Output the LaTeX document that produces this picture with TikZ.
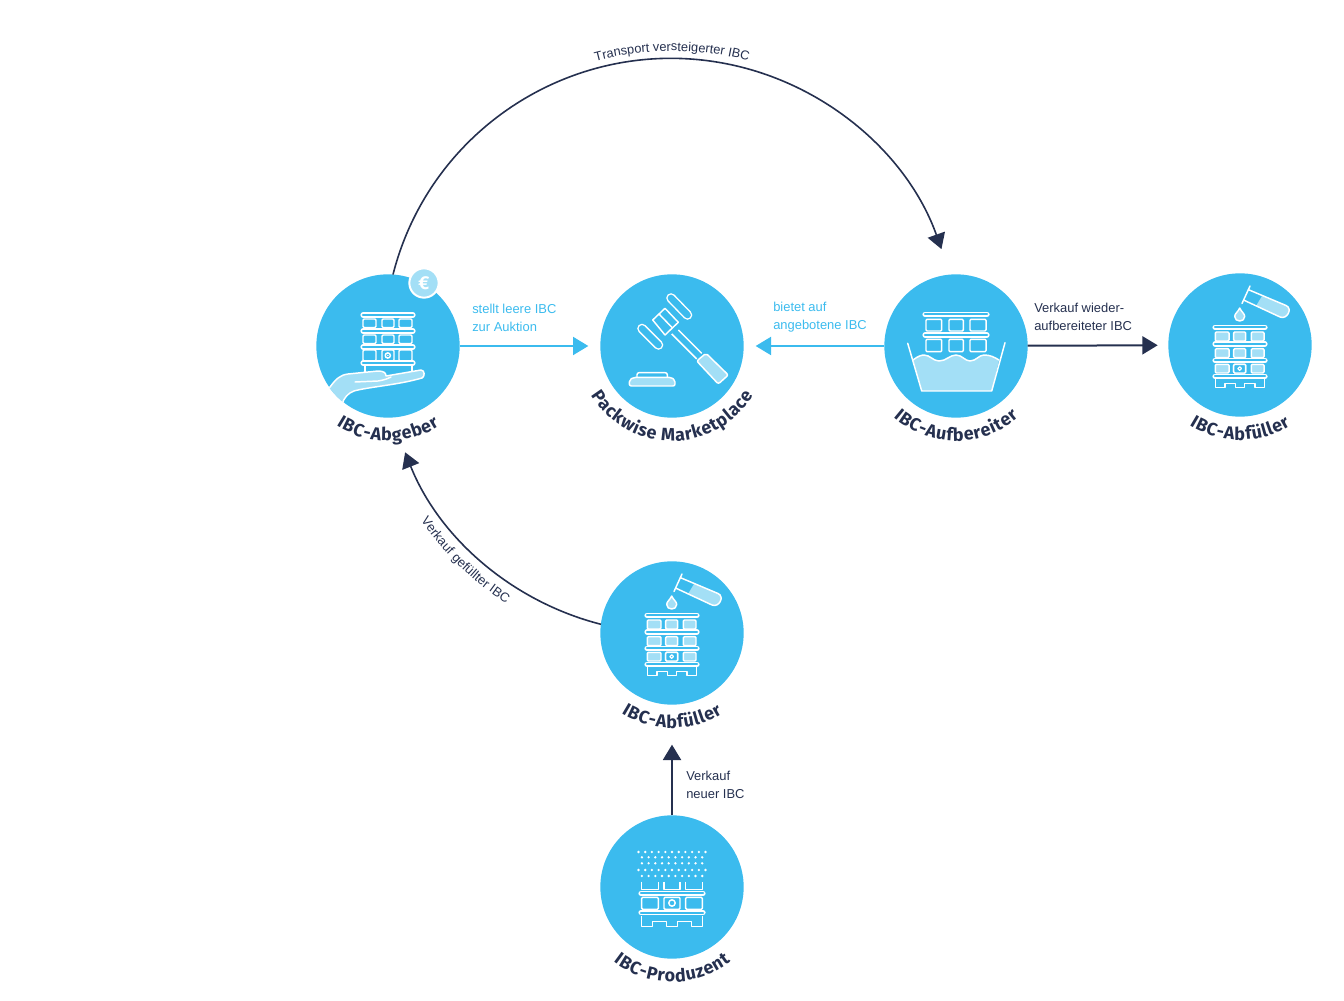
\documentclass[tikz,border=0pt]{standalone}
\usepackage{fontspec}
\setmainfont{Liberation Sans}
\newfontfamily\firaf{Fira Sans}
\usetikzlibrary{arrows.meta,calc,decorations.text}
\definecolor{cblue}{HTML}{3BBBEE}
\definecolor{clight}{HTML}{A3DFF6}
\definecolor{navy}{HTML}{25304F}
\newcommand{\lblfont}{\firaf\bfseries\fontsize{13.4}{16}\selectfont}
\tikzset{
  hub/.style={circle,fill=cblue,minimum size=107.5pt,inner sep=0pt,outer sep=0pt},
  ico/.style={draw=white,line width=1.1pt,line join=round},
  win/.style={ico,rounded corners=0.8pt},
  rail/.style={draw=white,line width=1.1pt,double=cblue,double distance=1.7pt,line cap=round},
  bar/.style={draw=white,line width=1.1pt,double=cblue,double distance=5pt,line cap=round},
  arrowblue/.style={draw=cblue,line width=1.5pt,-{Triangle[length=11.5pt,width=13.5pt]}},
  arrownavy/.style={draw=navy,line width=1.5pt,-{Triangle[length=11.5pt,width=13.5pt]}},
  arcnavy/.style={draw=navy,line width=1.2pt,-{Triangle[length=11.5pt,width=13.5pt]}},
  sidetext/.style={align=left,anchor=west,font=\fontsize{9.7}{13.5}\selectfont,inner sep=0pt},
  curvedtext/.style={decorate,decoration={text along path,text align=center,text={#1}}},
  hubtext/.style={decorate,decoration={text effects along path,text={#1},text align=center,
    text effects/.cd,text along path,
    characters={font=\lblfont,text=navy,inner xsep=0.25pt,inner ysep=0pt},
    character widths={font=\lblfont,inner xsep=0.25pt}}},
}
% label around a hub
\newcommand{\hublabel}[2]{\path[hubtext={#2}] ($(#1)+(190:95)$) arc[start angle=190,end angle=350,radius=95];}
\newcommand{\iconfiller}[1]{%
\begin{scope}[shift={(#1)},y=-0.75pt]
  \foreach \xa/\xb in {-24.7/-11,-6.3/5.7,11.3/24}
    \foreach \ya/\yb in {-13/-4,3.7/12.7,19.3/28}
      \draw[win,fill=clight] (\xa,\ya) rectangle (\xb,\yb);
  \draw[win,fill=cblue] (-6.3,19.3) rectangle (5.7,28);
  \draw[ico,line width=0.9pt] (-0.3,23.6) circle[radius=1.8];
  \foreach \y in {-17.7,-1,15.3,31.3} \draw[rail] (-25,\y) -- (25,\y);
  \draw[ico] (-24.7,34) -- (-24.7,42.7) -- (-15,42.7) -- (-15,38.5) -- (-4.5,38.5) -- (-4.5,42.7) -- (4.5,42.7) -- (4.5,38.5) -- (15,38.5) -- (15,42.7) -- (24.7,42.7) -- (24.7,34);
  % drop
  \draw[ico,fill=clight] (-0.3,-37) .. controls (-2,-33) and (-5.3,-31.5) .. (-5.3,-28.5) .. controls (-5.3,-22.5) and (4.7,-22.5) .. (4.7,-28.5) .. controls (4.7,-31.5) and (1.4,-33) .. (-0.3,-37) -- cycle;
  % test tube
  \fill[clight] (22,-49) -- (46,-39.5) .. controls (53,-36.5) and (47,-25) .. (40,-28) -- (16,-39) -- cycle;
  \draw[ico] (8,-55.5) -- (46,-39.5) .. controls (53,-36.5) and (47,-25) .. (40,-28) -- (3.5,-45);
  \draw[ico,line cap=round] (10,-59) -- (2,-41.5);
\end{scope}}
\begin{document}
\begin{tikzpicture}[x=0.75pt,y=0.75pt]
\useasboundingbox (0,0) rectangle (1344,1000);
\node[hub] (market) at (672,654) {};
\node[hub] (abgeber) at (388,654) {};
\node[hub] (aufbereiter) at (956,654) {};
\node[hub] (fillerright) at (1240,655) {};
\node[hub] (fillerlow) at (672,367) {};
\node[hub] (produzent) at (672,113) {};
% connectors
\draw[arcnavy] (abgeber.86) arc[start angle=165.7,end angle=19.6,radius=287];
\draw[arcnavy] (fillerlow.173) arc[start angle=255.7,end angle=201.7,radius=287];
\draw[arrowblue,shorten >=9pt] (abgeber) -- (market);
\draw[arrowblue,shorten >=9pt] (aufbereiter) -- (market);
\draw[arrownavy,shorten >=8pt] (aufbereiter) -- (fillerright);
\draw[arrownavy,shorten >=30pt] (produzent) -- (fillerlow);
% badge
\node[circle,fill=clight,draw=white,line width=1.5pt,minimum size=22pt,inner sep=0pt,text=white,font=\firaf\bfseries\fontsize{14}{14}\selectfont] (euro) at (424,717) {€};
% side texts
\node[sidetext,text=cblue] (t1) at (472,682.5) {stellt leere IBC\\zur Auktion};
\node[sidetext,text=cblue] (t2) at (773,682.5) {bietet auf\\angebotene IBC};
\node[sidetext,text=navy] (t3) at (1034,683) {Verkauf wieder-\\aufbereiteter IBC};
\node[sidetext,text=navy] (t4) at (686,215) {Verkauf\\neuer IBC};
% arc texts
\path[curvedtext={|\fontsize{9.6}{12}\selectfont\color{navy}|Transport versteigerter IBC}] ($(market)+(115:295)$) arc[start angle=115,end angle=65,radius=295];
\path[curvedtext={|\fontsize{9.7}{12}\selectfont\color{navy}|Verkauf gefüllter IBC}] ($(market)+(201:306)$) arc[start angle=201,end angle=251,radius=306];
% hub labels
\hublabel{abgeber}{IBC-Abgeber}
\hublabel{market}{Packwise Marketplace}
\hublabel{aufbereiter}{IBC-Aufbereiter}
\hublabel{fillerright}{IBC-Abfüller}
\hublabel{fillerlow}{IBC-Abfüller}
\hublabel{produzent}{IBC-Produzent}
% icon: Abgeber
\begin{scope}[shift={(abgeber)},y=-0.75pt]
  \foreach \xa/\xb in {-25/-12,-6/6,11/24}
    \foreach \ya/\yb in {-27/-18.5,-11/-2.5,4/15}
      \draw[win] (\xa,\ya) rectangle (\xb,\yb);
  \draw[ico] (-0.2,9.5) circle[radius=2.6];
  \fill[white] (-0.2,9.5) circle[radius=0.8];
  \foreach \y in {-31,-15,1,17} \draw[rail] (-25,\y) -- (25,\y);
  \draw[ico] (-23,20) -- (-23,26) (24,20) -- (24,26);
  \clip (0,0) circle[radius=72];
  \draw[ico,fill=clight] (-62,46) -- (-58,41) .. controls (-52,33) and (-48,29) .. (-40,28) -- (-10,25) .. controls (-4,25) and (-2,27) .. (-2,30) -- (33,24) .. controls (37,24) and (37,31) .. (34,32) .. controls (10,39) and (-20,41) .. (-34,45) .. controls (-40,47) and (-44,52) .. (-46,58) -- cycle;
  \draw[ico,line cap=round] (-33,36) -- (-10,35) .. controls (-4,34) and (-1,33) .. (3,31);
\end{scope}
% icon: gavel
\begin{scope}[shift={(market)},y=-0.75pt]
  \draw[ico] (-0.3,-12) -- (24.7,13) (6.3,-16) -- (29.7,7.3);
  \draw[ico,fill=cblue] (-19.3,-26) -- (-7,-37.7) -- (6.3,-23.7) -- (-7,-11) -- cycle;
  \draw[ico] (-13,-32) -- (0.5,-18);
  \draw[bar] (-30,-17.5) -- (-13.5,-1);
  \draw[bar] (-1,-48) -- (15.5,-31);
  \draw[ico,fill=clight,rounded corners=1.5pt] (24.7,15) -- (34,7.3) -- (56.3,29) -- (46.3,38) -- cycle;
  \draw[ico,fill=clight,rounded corners=1.5pt] (-42.7,40) -- (-42.7,34) -- (-38,31.3) -- (-1,31.3) -- (3,34) -- (3,40) -- cycle;
  \draw[ico,rounded corners=1.5pt] (-35,31.3) -- (-35,26.7) -- (-4.7,26.7) -- (-4.7,31.3);
\end{scope}
% icon: tub
\begin{scope}[shift={(aufbereiter)},y=-0.75pt]
  \foreach \xa/\xb in {-30/-14.3,-7/7.3,14/30}
    \foreach \ya/\yb in {-26.7/-15,-6.7/5.7}
      \draw[win] (\xa,\ya) rectangle (\xb,\yb);
  \foreach \y in {-31.7,-11} \draw[rail] (-31,\y) -- (31,\y);
  \fill[clight] (-43,14) .. controls (-38,10) and (-34,9) .. (-32,9) .. controls (-26,9) and (-23,15) .. (-17,15) .. controls (-10,15) and (-6,9) .. (0,9) .. controls (6,9) and (9,15) .. (14,15) .. controls (20,15) and (23,9) .. (28,9) .. controls (34,9) and (38,11) .. (43,14) -- (35.7,45) -- (-34.3,45) -- cycle;
  \draw[ico] (-43,14) .. controls (-38,10) and (-34,9) .. (-32,9) .. controls (-26,9) and (-23,15) .. (-17,15) .. controls (-10,15) and (-6,9) .. (0,9) .. controls (6,9) and (9,15) .. (14,15) .. controls (20,15) and (23,9) .. (28,9) .. controls (34,9) and (38,11) .. (43,14);
  \draw[ico,line cap=round] (-48.3,-2.7) -- (-34.3,45) -- (35.7,45) -- (49,-3.3);
\end{scope}
\iconfiller{fillerright}
\iconfiller{fillerlow}
% icon: producer
\begin{scope}[shift={(produzent)},y=-0.75pt]
  \foreach \y in {-35,-17} \foreach \i in {0,...,10} \fill[white] (-33.5+6.7*\i,\y) circle[radius=1.3];
  \foreach \y in {-29.7,-23.7,-11} \foreach \i in {0,...,9} \fill[white] (-30.1+6.7*\i,\y) circle[radius=1.3];
  \foreach \xa/\xb in {-30.3/-13.7,-8/8,13.7/30.3} {
    \draw[ico] (\xa,-5.3) -- (\xa,2.3) -- (\xb,2.3) -- (\xb,-5.3);
    \draw[win] (\xa,10.3) rectangle (\xb,22.3);
  }
  \draw[ico] (0,16) circle[radius=3.2];
  \foreach \y in {6.3,25.7} \draw[rail] (-31,\y) -- (31,\y);
  \draw[ico] (-30.3,29) -- (-30.3,39.7) -- (-19.5,39.7) -- (-19.5,34.5) -- (-5.7,34.5) -- (-5.7,39.7) -- (5.7,39.7) -- (5.7,34.5) -- (19.5,34.5) -- (19.5,39.7) -- (30.3,39.7) -- (30.3,29);
\end{scope}
\end{tikzpicture}
\end{document}
